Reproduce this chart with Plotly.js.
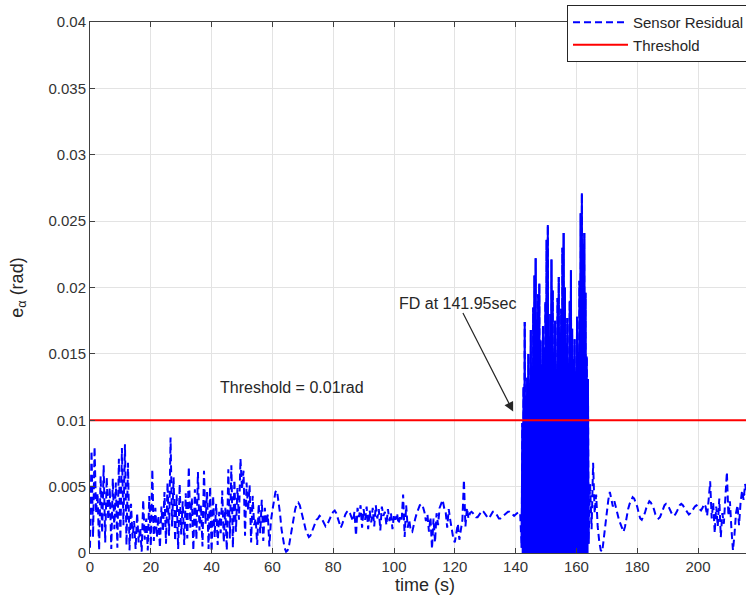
<!DOCTYPE html>
<html>
<head>
<meta charset="utf-8">
<script src="https://cdn.plot.ly/plotly-3.0.1.min.js"></script>
<style>
html, body { margin: 0; padding: 0; background: #ffffff; overflow: hidden; width: 746px; height: 602px; }
#chart { width: 770px; height: 602px; }
</style>
</head>
<body>
<div id="chart"></div>
<script>
// ---- Data ----
// Segment 1: t = 0 .. 64.5 s, every 0.5 s
const seg1Start = 0, seg1Step = 0.5;
const seg1Residual = [
0.0004,0.0077,0.0012,0.0080,0.0030,0.0045,0.0002,0.0058,0.0015,0.0066,
0.0008,0.0057,0.0025,0.0049,0.0003,0.0056,0.0018,0.0053,0.0004,0.0071,
0.0010,0.0079,0.0021,0.0082,0.0006,0.0068,0.0002,0.0037,0.0011,0.0024,
0.0003,0.0030,0.0008,0.0019,0.0001,0.0040,0.0010,0.0026,0.0002,0.0043,
0.0005,0.0063,0.0009,0.0034,0.0012,0.0028,0.0004,0.0035,0.0016,0.0046,
0.0007,0.0053,0.0013,0.0087,0.0020,0.0057,0.0009,0.0044,0.0003,0.0052,
0.0014,0.0039,0.0006,0.0045,0.0011,0.0065,0.0019,0.0041,0.0002,0.0048,
0.0010,0.0061,0.0017,0.0036,0.0005,0.0062,0.0022,0.0046,0.0003,0.0050,
0.0001,0.0043,0.0012,0.0037,0.0006,0.0031,0.0015,0.0047,0.0008,0.0034,
0.0002,0.0063,0.0011,0.0066,0.0004,0.0055,0.0016,0.0049,0.0025,0.0071,
0.0048,0.0062,0.0013,0.0053,0.0032,0.0051,0.0008,0.0043,0.0021,0.0026,
0.0006,0.0037,0.0015,0.0040,0.0009,0.0034,0.0022,0.0029,0.0005,0.0024,
0.0032,0.0041,0.0046,0.0047,0.0040,0.0030,0.0018,0.0009,0.0004,0.0001
];
// Segment 2: t = 65 .. 141.5 s, every 0.5 s
const seg2Start = 65, seg2Step = 0.5;
const seg2Residual = [
0.0002,0.0006,0.0013,0.0020,0.0027,0.0033,0.0037,0.0038,0.0036,0.0032,
0.0027,0.0022,0.0017,0.0014,0.0012,0.0013,0.0016,0.0020,0.0023,0.0025,
0.0026,0.0028,0.0027,0.0025,0.0022,0.0020,0.0021,0.0024,0.0027,0.0029,
0.0031,0.0032,0.0030,0.0026,0.0021,0.0019,0.0022,0.0026,0.0029,0.0031,
0.0032,0.0030,0.0027,0.0024,0.0031,0.0013,0.0034,0.0027,0.0036,0.0019,
0.0033,0.0025,0.0035,0.0018,0.0032,0.0023,0.0034,0.0020,0.0036,0.0026,
0.0033,0.0017,0.0035,0.0028,0.0031,0.0021,0.0033,0.0024,0.0030,0.0018,
0.0029,0.0025,0.0030,0.0022,0.0027,0.0024,0.0044,0.0012,0.0036,0.0019,
0.0025,0.0017,0.0016,0.0022,0.0026,0.0030,0.0033,0.0036,0.0037,0.0035,
0.0031,0.0024,0.0029,0.0016,0.0027,0.0003,0.0026,0.0008,0.0030,0.0021,
0.0034,0.0038,0.0040,0.0034,0.0031,0.0019,0.0033,0.0025,0.0016,0.0011,
0.0008,0.0015,0.0022,0.0010,0.0017,0.0025,0.0055,0.0020,0.0034,0.0026,
0.0030,0.0031,0.0030,0.0028,0.0027,0.0027,0.0029,0.0031,0.0032,0.0031,
0.0029,0.0027,0.0026,0.0027,0.0029,0.0031,0.0031,0.0030,0.0028,0.0026,
0.0026,0.0027,0.0028,0.0029,0.0030,0.0031,0.0031,0.0030,0.0029,0.0028,
0.0029,0.0030,0.0031,0.0030
];
// Segment 3 (fault burst): t = 142 .. 164 s, every 0.2 s
const seg3Start = 142, seg3Step = 0.2;
const seg3Residual = [
0.0004,0.0098,0.0010,0.0125,0.0003,0.0174,0.0008,0.0118,0.0015,0.0132,
0.0002,0.0150,0.0011,0.0128,0.0005,0.0168,0.0020,0.0141,0.0007,0.0185,
0.0003,0.0209,0.0012,0.0222,0.0006,0.0176,0.0017,0.0195,0.0002,0.0203,
0.0009,0.0160,0.0004,0.0142,0.0013,0.0171,0.0001,0.0155,0.0010,0.0189,
0.0005,0.0236,0.0014,0.0247,0.0003,0.0163,0.0008,0.0180,0.0016,0.0221,
0.0002,0.0198,0.0011,0.0151,0.0006,0.0175,0.0019,0.0139,0.0004,0.0192,
0.0009,0.0208,0.0001,0.0166,0.0013,0.0184,0.0005,0.0230,0.0010,0.0241,
0.0003,0.0200,0.0015,0.0158,0.0007,0.0177,0.0002,0.0143,0.0012,0.0190,
0.0004,0.0213,0.0009,0.0169,0.0018,0.0146,0.0003,0.0161,0.0011,0.0137,
0.0006,0.0178,0.0014,0.0152,0.0002,0.0205,0.0008,0.0256,0.0004,0.0271,
0.0012,0.0233,0.0003,0.0241,0.0010,0.0196,0.0005,0.0148,0.0016,0.0131,
0.0007
];
// Segment 4: t = 164.5 .. 216 s, every 0.5 s
const seg4Start = 164.5, seg4Step = 0.5;
const seg4Residual = [
0.0052,0.0018,0.0068,0.0030,0.0044,0.0020,0.0009,0.0002,0.0001,0.0011,
0.0021,0.0030,0.0040,0.0046,0.0041,0.0035,0.0039,0.0034,0.0030,0.0025,
0.0022,0.0018,0.0016,0.0020,0.0027,0.0033,0.0037,0.0040,0.0042,0.0041,
0.0038,0.0035,0.0030,0.0026,0.0025,0.0027,0.0030,0.0034,0.0037,0.0039,
0.0038,0.0036,0.0033,0.0029,0.0027,0.0026,0.0027,0.0030,0.0033,0.0036,
0.0037,0.0036,0.0034,0.0031,0.0029,0.0028,0.0029,0.0031,0.0034,0.0036,
0.0037,0.0036,0.0034,0.0032,0.0030,0.0029,0.0030,0.0032,0.0034,0.0035,
0.0036,0.0035,0.0033,0.0032,0.0034,0.0037,0.0035,0.0028,0.0040,0.0054,
0.0026,0.0038,0.0015,0.0035,0.0020,0.0041,0.0012,0.0030,0.0022,0.0045,
0.0061,0.0028,0.0039,0.0018,0.0002,0.0014,0.0030,0.0036,0.0021,0.0038,
0.0047,0.0040,0.0052,0.0044
];
const thresholdValue = 0.01;
const thresholdSpan = [0, 222];
const xTickValues = [0, 20, 40, 60, 80, 100, 120, 140, 160, 180, 200, 220];
const yTickValues = [0, 0.005, 0.01, 0.015, 0.02, 0.025, 0.03, 0.035, 0.04];
const yTickLabels = ['0', '0.005', '0.01', '0.015', '0.02', '0.025', '0.03', '0.035', '0.04'];

// ---- Build the series ----
const segments = [
  [seg1Start, seg1Step, seg1Residual],
  [seg2Start, seg2Step, seg2Residual],
  [seg3Start, seg3Step, seg3Residual],
  [seg4Start, seg4Step, seg4Residual]
];
const time = [], residual = [];
segments.forEach(([s, d, vals]) => {
  vals.forEach((v, i) => { time.push(+(s + i * d).toFixed(3)); residual.push(v); });
});
const burstTime = seg3Residual.map((v, i) => +(seg3Start + i * seg3Step).toFixed(3));

const FONT = '"Liberation Sans", Arial, sans-serif';
const TXT = '#333333';

const traces = [
  {
    x: time, y: residual, type: 'scatter', mode: 'lines', name: 'Sensor Residual',
    legendgroup: 'res',
    line: { color: '#0000ff', width: 2, dash: '7px,4px' }
  },
  {
    // the burst is so dense that it reads as a solid block
    x: burstTime, y: seg3Residual, type: 'scatter', mode: 'lines', name: 'Sensor Residual',
    legendgroup: 'res', showlegend: false,
    line: { color: '#0000ff', width: 2 },
    fill: 'tozeroy', fillcolor: '#0000ff'
  },
  {
    x: thresholdSpan, y: [thresholdValue, thresholdValue], type: 'scatter', mode: 'lines',
    name: 'Threshold', line: { color: '#ff0000', width: 2 }
  }
];

const pxPerUnit = 3.04;
const plotW = 770 - 90 - 10;
const layout = {
  width: 770, height: 602,
  paper_bgcolor: '#ffffff', plot_bgcolor: '#ffffff',
  font: { family: FONT, size: 15, color: TXT },
  margin: { l: 90, r: 10, t: 22, b: 49, autoexpand: false },
  showlegend: true,
  legend: {
    x: (567 - 90) / plotW, y: 1.032, xanchor: 'left', yanchor: 'top',
    bgcolor: '#ffffff', bordercolor: '#262626', borderwidth: 1,
    font: { family: FONT, size: 15, color: '#262626' },
    itemwidth: 55, tracegroupgap: 0
  },
  xaxis: {
    range: [0, plotW / pxPerUnit],
    tickvals: xTickValues,
    ticks: 'inside', ticklen: 5, tickwidth: 1, tickcolor: '#404040',
    showline: true, linecolor: '#404040', linewidth: 1, mirror: 'ticks',
    showgrid: true, gridcolor: '#e3e3e3', gridwidth: 1, zeroline: false,
    tickfont: { family: FONT, size: 15, color: TXT },
    title: { text: 'time (s)', font: { family: FONT, size: 18, color: '#262626' }, standoff: 4 }
  },
  yaxis: {
    range: [0, 0.04],
    tickvals: yTickValues, ticktext: yTickLabels,
    ticks: 'inside', ticklen: 5, tickwidth: 1, tickcolor: '#404040',
    showline: true, linecolor: '#404040', linewidth: 1, mirror: 'ticks',
    showgrid: true, gridcolor: '#e3e3e3', gridwidth: 1, zeroline: false,
    tickfont: { family: FONT, size: 15, color: TXT },
    title: { text: 'e<sub>α</sub> (rad)', font: { family: FONT, size: 18, color: '#262626' }, standoff: 20 }
  },
  annotations: [
    {
      x: 66.4, y: 0.01243, xref: 'x', yref: 'y', text: 'Threshold = 0.01rad',
      showarrow: false, font: { family: FONT, size: 16, color: '#262626' }
    },
    {
      x: 139.2, y: 0.01065, xref: 'x', yref: 'y',
      ax: 121, ay: 0.01883, axref: 'x', ayref: 'y',
      text: 'FD at 141.95sec', showarrow: true,
      arrowhead: 2, arrowsize: 1.6, arrowwidth: 1.2, arrowcolor: '#262626',
      font: { family: FONT, size: 16, color: '#262626' }
    }
  ]
};

Plotly.newPlot('chart', traces, layout, { displayModeBar: false, staticPlot: true });
</script>
</body>
</html>
